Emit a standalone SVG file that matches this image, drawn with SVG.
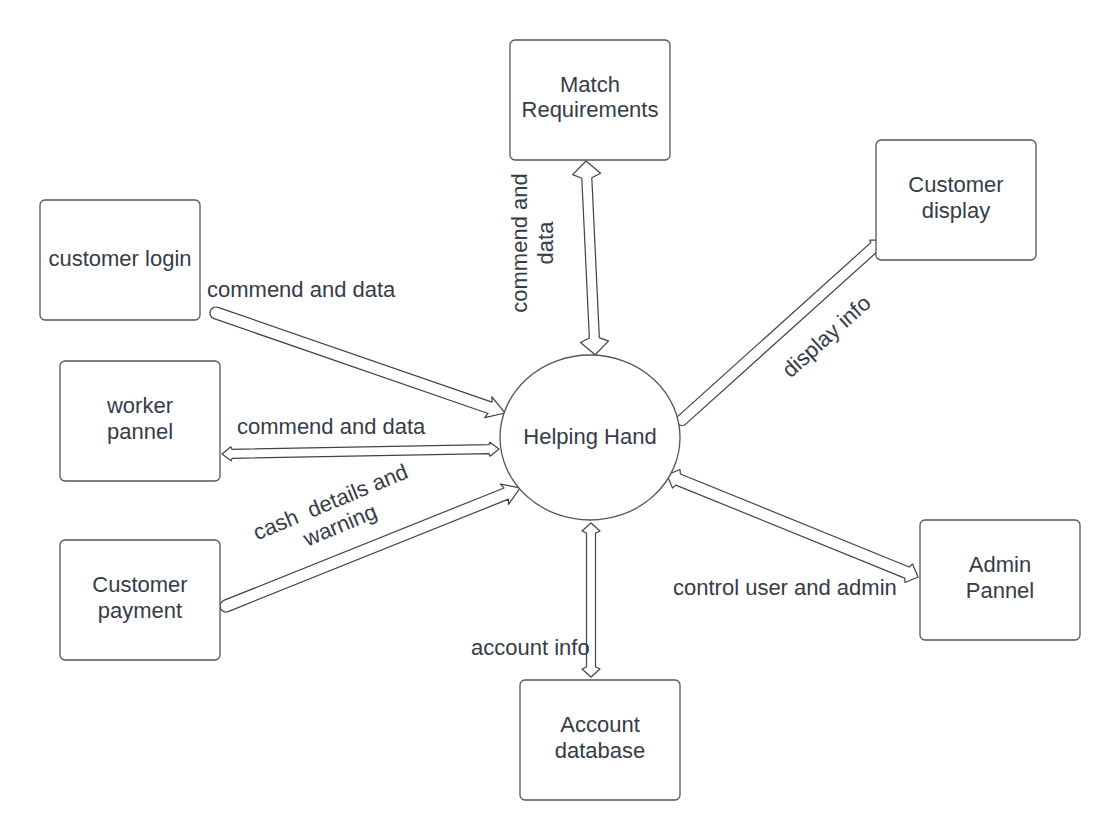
<svg xmlns="http://www.w3.org/2000/svg" width="1120" height="840" viewBox="0 0 1120 840">
<style>
.box{fill:#ffffff;stroke:#52565d;stroke-width:1.3}
.arr{fill:#ffffff;stroke:#3f434a;stroke-width:1.2;stroke-linejoin:round}
text{font-family:"Liberation Sans",Arial,sans-serif;font-size:22px;fill:#353c47}
.c{text-anchor:middle}
</style>
<rect width="1120" height="840" fill="#ffffff"/>
<g id="connectors">
<!-- Match Requirements <-> Helping Hand -->
<path class="arr" transform="translate(586,161) rotate(87.3)" d="M0,0 L13,-14 L17,-5 L177,-5 L181,-14 L194,0 L181,14 L177,5 L17,5 L13,14 Z"/>
<!-- customer login -> Helping Hand -->
<path class="arr" transform="translate(216,313) rotate(19.08)" d="M0,-6 L290,-6 L288,-11 L306,0 L288,11 L290,6 L0,6 A6,6 0 0 1 0,-6 Z"/>
<!-- worker pannel <-> Helping Hand -->
<path class="arr" transform="translate(222,454) rotate(-1.03)" d="M0,0 L9,-7 L10,-4.5 L267,-4.5 L268,-7 L277,0 L268,7 L267,4.5 L10,4.5 L9,7 Z"/>
<!-- Customer payment -> Helping Hand -->
<path class="arr" transform="translate(226,606) rotate(-21.87)" d="M0,-6 L302,-6 L300,-11 L317,0 L300,11 L302,6 L0,6 A6,6 0 0 1 0,-6 Z"/>
<!-- Helping Hand -> Customer display -->
<path class="arr" transform="translate(682,420) rotate(-41.99)" d="M0,-5.5 L259,-5.5 L260,-8 L269,0 L260,8 L259,5.5 L0,5.5 A5.5,5.5 0 0 1 0,-5.5 Z"/>
<!-- Helping Hand <-> Admin Pannel -->
<path class="arr" transform="translate(667,475) rotate(22.12)" d="M0,0 L10,-10 L12,-6 L259,-6 L261,-10 L271,0 L261,10 L259,6 L12,6 L10,10 Z"/>
<!-- Helping Hand <-> Account database -->
<path class="arr" transform="translate(591,523) rotate(90)" d="M0,0 L8,-9 L10,-4.5 L144,-4.5 L146,-9 L154,0 L146,9 L144,4.5 L10,4.5 L8,9 Z"/>
</g>
<g id="labels">
<text x="207" y="297">commend and data</text>
<text x="237" y="434">commend and data</text>
<g transform="translate(335,513) rotate(-22.5)"><text class="c" x="0" y="-4.5" xml:space="preserve">cash  details and</text><text class="c" x="0" y="20.5">warning</text></g>
<g transform="translate(532,243) rotate(-90)"><text class="c" x="0" y="-5">commend and</text><text class="c" x="0" y="21">data</text></g>
<g transform="translate(826,336) rotate(-42)"><text class="c" x="0" y="8">display info</text></g>
<text x="673" y="595">control user and admin</text>
<text x="471" y="655">account info</text>
</g>
<g id="node-match">
<rect class="box" x="510" y="40" width="160" height="120" rx="5"/>
<text class="c" x="590" y="92">Match</text><text class="c" x="590" y="117">Requirements</text>
</g>
<g id="node-customer-login">
<rect class="box" x="40" y="200" width="160" height="120" rx="5"/>
<text class="c" x="120" y="266">customer login</text>
</g>
<g id="node-worker-pannel">
<rect class="box" x="60" y="361" width="160" height="120" rx="5"/>
<text class="c" x="140" y="413">worker</text><text class="c" x="140" y="439">pannel</text>
</g>
<g id="node-customer-payment">
<rect class="box" x="60" y="540" width="160" height="120" rx="5"/>
<text class="c" x="140" y="592">Customer</text><text class="c" x="140" y="618">payment</text>
</g>
<g id="node-customer-display">
<rect class="box" x="876" y="140" width="160" height="120" rx="5"/>
<text class="c" x="956" y="192">Customer</text><text class="c" x="956" y="218">display</text>
</g>
<g id="node-admin-pannel">
<rect class="box" x="920" y="520" width="160" height="120" rx="5"/>
<text class="c" x="1000" y="572">Admin</text><text class="c" x="1000" y="598">Pannel</text>
</g>
<g id="node-account-database">
<rect class="box" x="520" y="680" width="160" height="120" rx="5"/>
<text class="c" x="600" y="732">Account</text><text class="c" x="600" y="758">database</text>
</g>
<g id="node-helping-hand">
<ellipse class="box" cx="590" cy="437.5" rx="90" ry="82.5"/>
<text class="c" x="590" y="444">Helping Hand</text>
</g>
</svg>
